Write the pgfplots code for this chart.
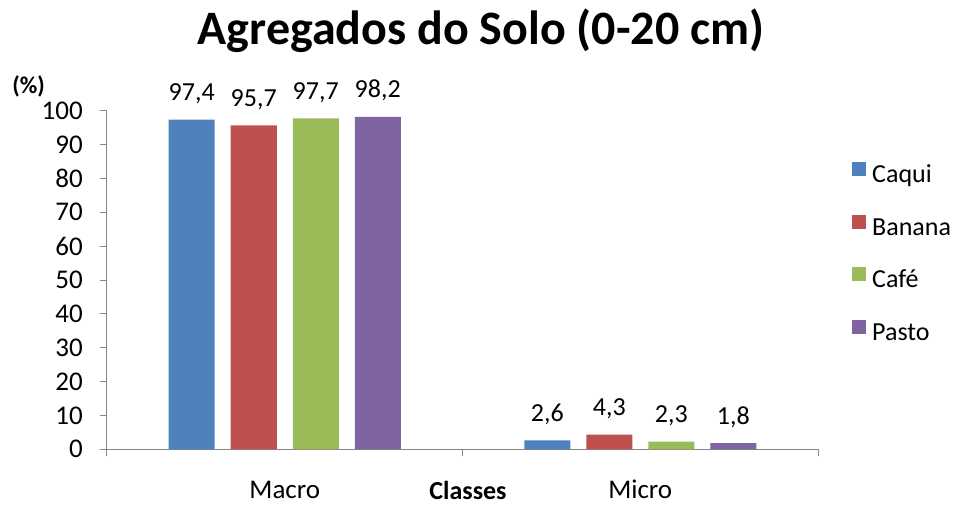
\documentclass[border=0pt]{standalone}
\usepackage{pgfplots}
\pgfplotsset{compat=1.18}
\usepackage{fontspec}
\setmainfont{Carlito}
\definecolor{cCaqui}{HTML}{4F81BD}
\definecolor{cBanana}{HTML}{C0504D}
\definecolor{cCafe}{HTML}{9BBB59}
\definecolor{cPasto}{HTML}{8064A2}
\definecolor{axisgray}{HTML}{868686}
\newcommand{\tfont}{\fontsize{26}{30}\selectfont}
\begin{document}
\begin{tikzpicture}
\path[use as bounding box] (-107pt,-54.7pt) rectangle (846pt,449.3pt);
\begin{axis}[
  at={(0pt,0pt)}, anchor=south west,
  scale only axis, width=711pt, height=338.6pt,
  xmin=-0.5, xmax=1.5, ymin=0, ymax=100,
  axis lines*=left,
  axis line style={draw=axisgray, line width=1pt},
  tick align=outside,
  major tick length=7pt,
  tick style={draw=axisgray, line width=1pt},
  ytick={0,10,...,100},
  xtick={-0.5,0.5,1.5}, xticklabels={},
  extra x ticks={0,1}, extra x tick labels={Macro,Micro},
  extra x tick style={major tick length=0pt, xticklabel style={anchor=base, yshift=-49pt}},
  /pgf/number format/assume math mode=true,
  ticklabel style={font=\fontsize{27}{30}\selectfont, text=black},
  yticklabel style={anchor=east, inner sep=0pt, xshift=-17pt},
  ybar=16pt, bar width=46pt,
  nodes near coords={\pgfmathprintnumber[fixed,fixed zerofill,precision=1,use comma,assume math mode=true]{\pgfplotspointmeta}},
  nodes near coords style={font=\tfont, text=black, anchor=base, yshift=19pt, inner sep=0pt},
  legend style={at={(1.0478,0.8485)}, anchor=north west, draw=none, fill=none,
    font=\tfont, inner sep=0pt, row sep=26pt,
    nodes={inner sep=0pt, text height=18pt, text depth=6pt, anchor=west},
    /tikz/every odd column/.append style={column sep=6pt}},
  legend cell align=left,
  legend image code/.code={\path[#1] (0pt,0.5pt) rectangle (14pt,14.5pt);},
]
\addplot[fill=cCaqui, draw=none] coordinates {(0,97.4) (1,2.6)};
\addplot[fill=cBanana, draw=none] coordinates {(0,95.7) (1,4.3)};
\addplot[fill=cCafe, draw=none] coordinates {(0,97.7) (1,2.3)};
\addplot[fill=cPasto, draw=none] coordinates {(0,98.2) (1,1.8)};
\legend{Caqui,Banana,Café,Pasto}
\end{axis}
\node[anchor=base, font=\fontsize{48}{52}\selectfont\bfseries, inner sep=0pt] at (374pt,404.3pt) {Agregados do Solo (0-20 cm)};
\node[anchor=base, font=\fontsize{24}{28}\selectfont\bfseries, inner sep=0pt] at (-78.5pt,356pt) {(\%)};
\node[anchor=base, font=\fontsize{26}{30}\selectfont\bfseries, inner sep=0pt] at (361pt,-50pt) {Classes};
\end{tikzpicture}
\end{document}
